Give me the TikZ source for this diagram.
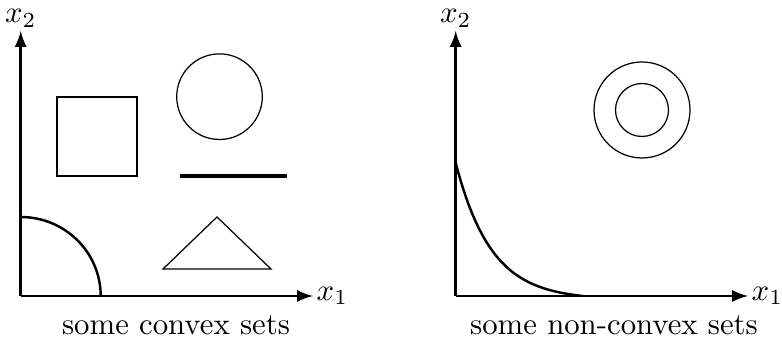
\documentclass[tikz,border=0pt]{standalone}
\usetikzlibrary{positioning}

\begin{document}
\begin{tikzpicture}[x=3.25pt,y=3.25pt,
                    axis/.style={thick,-latex},
                    lbl/.style={inner sep=1pt},
                    setline/.style={line width=0.55pt},
                    thinset/.style={line width=0.4pt}]
  \useasboundingbox (0,0) rectangle (78.2,33.9);
  % left: convex sets
  \coordinate (o1) at (2.07,4.3);
  \coordinate (ytop1) at (2.07,30.8);
  \coordinate (xend1) at (31.3,4.3);
  \draw[axis] (o1) -- (ytop1);
  \draw[axis] (o1) -- (xend1);
  \node[lbl,above=0pt of ytop1] (xtwoL) {$x_2$};
  \node[lbl,right=0pt of xend1] (xoneL) {$x_1$};
  \draw[setline] (5.7,16.3) rectangle (13.7,24.2);
  \draw[thinset] (21.95,24.23) circle (4.28);
  \draw[line width=1.3pt] (18,16.3) -- (28.7,16.3);
  \draw[thinset] (16.3,7) -- (21.7,12.2) -- (27.1,7) -- cycle;
  \draw[thick] (2.07,12.2) arc[start angle=90,end angle=0,x radius=8,y radius=7.9];
  \node[anchor=base] (capL) at (17.6,0.4) {some convex sets};
  % right: non-convex sets
  \coordinate (o2) at (45.57,4.3);
  \coordinate (ytop2) at (45.57,30.8);
  \coordinate (xend2) at (74.8,4.3);
  \draw[axis] (o2) -- (ytop2);
  \draw[axis] (o2) -- (xend2);
  \node[lbl,above=0pt of ytop2] (xtwoR) {$x_2$};
  \node[lbl,right=0pt of xend2] (xoneR) {$x_1$};
  \draw[thick] plot[domain=0:12.7,samples=80]
    ({45.57+\x},{4.3+13.3*(exp(-0.28*\x)-exp(-3.556))/(1-exp(-3.556))});
  \draw[thinset] (64.2,22.9) circle (4.8);
  \draw[thinset] (64.2,22.9) circle (2.65);
  \node[anchor=base] (capR) at (61.4,0.4) {some non-convex sets};
\end{tikzpicture}
\end{document}
